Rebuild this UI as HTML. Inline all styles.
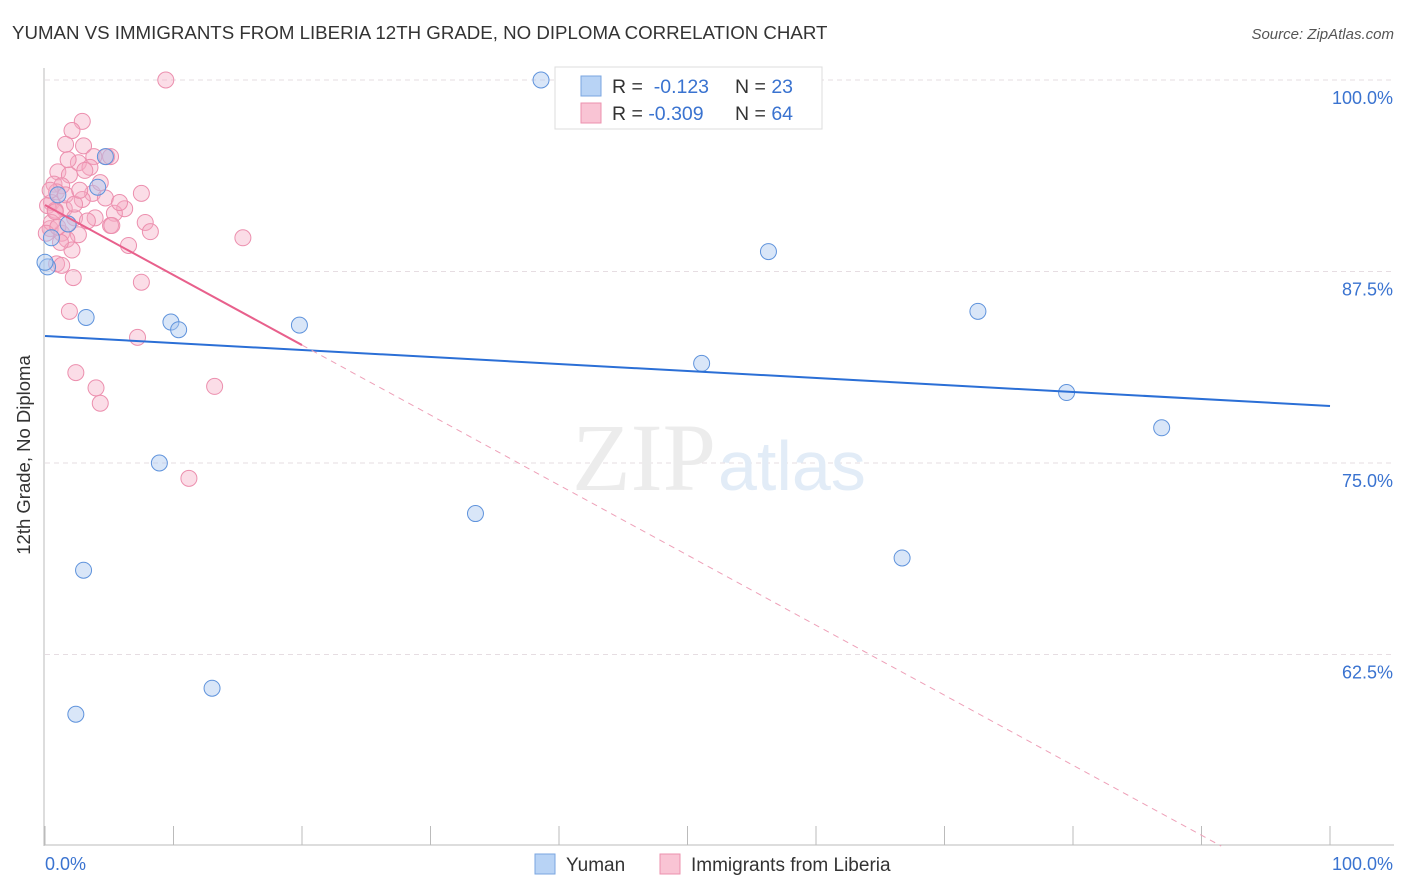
<!DOCTYPE html>
<html><head><meta charset="utf-8"><style>
body{margin:0;background:#fff;font-family:"Liberation Sans",sans-serif}
</style></head><body>
<svg width="1406" height="892" style="display:block">
<text x="12" y="39" font-size="18.7" fill="#333">YUMAN VS IMMIGRANTS FROM LIBERIA 12TH GRADE, NO DIPLOMA CORRELATION CHART</text>
<text x="1394" y="39" font-size="15" fill="#555" text-anchor="end" font-style="italic">Source: ZipAtlas.com</text>
<g id="grid"></g>
<text x="716" y="490" font-size="96" fill="#ececec" text-anchor="end" font-family="Liberation Serif">ZIP</text>
<text x="718" y="490" font-size="70" fill="#e2ecf7">atlas</text>
<line x1="44" y1="68" x2="44" y2="846" stroke="#bbb"/>
<line x1="44" y1="845" x2="1394" y2="845" stroke="#bbb"/>
<g id="xticks"></g>
<g id="pts"></g>
<g id="lines"></g>
<text x="30" y="455" font-size="18.5" fill="#333" text-anchor="middle" transform="rotate(-90 30 455)">12th Grade, No Diploma</text>
<text x="45" y="870" font-size="18" fill="#3a73d0">0.0%</text>
<text x="1393" y="870" font-size="18" fill="#3a73d0" text-anchor="end">100.0%</text>
<g>
<rect x="555" y="67" width="267" height="62" fill="#fff" stroke="#ddd"/>
<rect x="581" y="76" width="20" height="20" fill="#b8d3f5" stroke="#7aa6e0"/>
<rect x="581" y="103" width="20" height="20" fill="#f9c4d4" stroke="#ec91ae"/>
<text x="612" y="93" font-size="19.5" fill="#333">R = <tspan fill="#3a73d0">&#160;-0.123</tspan><tspan x="735">N = </tspan><tspan fill="#3a73d0">23</tspan></text>
<text x="612" y="120" font-size="19.5" fill="#333">R = <tspan fill="#3a73d0">-0.309</tspan><tspan x="735">N = </tspan><tspan fill="#3a73d0">64</tspan></text>
</g>
<g>
<rect x="535" y="854" width="20" height="20" fill="#b8d3f5" stroke="#7aa6e0"/>
<text x="566" y="871" font-size="19" fill="#333">Yuman</text>
<rect x="660" y="854" width="20" height="20" fill="#f9c4d4" stroke="#ec91ae"/>
<text x="691" y="871" font-size="19" fill="#333">Immigrants from Liberia</text>
</g>
</svg>
<script>
const yTicks=[100,87.5,75,62.5];
const yTickLabels=["100.0%","87.5%","75.0%","62.5%"];
const xTicks=[0,10,20,30,40,50,60,70,80,90,100];
const yumanX=[38.6,4.7,4.1,1.8,0.2,3.2,9.8,10.4,19.8,56.3,72.6,51.1,79.5,86.9,8.9,33.5,3.0,66.7,13.0,2.4,0.5,1.0,0.0];
const yumanY=[100,95.0,93.0,90.6,87.8,84.5,84.2,83.7,84.0,88.8,84.9,81.5,79.6,77.3,75.0,71.7,68.0,68.8,60.3,58.6,89.7,92.5,88.1];
const liberiaX=[9.4,2.9,2.1,1.6,3.0,4.8,3.8,2.6,1.8,3.5,1.0,1.9,0.7,1.3,0.9,3.7,7.5,2.9,4.7,6.2,5.4,0.5,1.5,3.9,0.2,0.8,2.3,3.3,5.1,7.8,5.2,0.4,1.3,2.6,8.2,15.4,6.5,1.7,2.1,0.9,2.2,7.5,1.9,7.2,2.4,3.97,13.2,4.3,11.2,0.5,0.1,1.2,3.1,4.3,1.6,0.4,2.3,1.0,1.8,0.8,2.7,1.3,5.1,5.8];
const liberiaY=[100,97.3,96.7,95.8,95.7,95.0,95.0,94.6,94.8,94.3,94.0,93.8,93.2,93.1,92.7,92.6,92.6,92.2,92.3,91.6,91.3,92.0,91.6,91.0,91.8,91.5,91.0,90.8,90.5,90.7,90.5,90.3,90.0,89.9,90.1,89.7,89.2,89.6,88.9,88.0,87.1,86.8,84.9,83.2,80.9,79.9,80.0,78.9,74.0,90.7,90.0,89.4,94.1,93.3,92.5,92.8,91.9,90.4,90.6,91.4,92.8,87.9,95.0,92.0];
const yumanTrend=[100-(336-80)/15.32,100-(406-80)/15.32];
const liberiaTrend=[100-(205-80)/15.32,-0.545*12.85/15.32];
const X=v=>45+v*12.85, Y=v=>80+(100-v)*15.32;
const NS="http://www.w3.org/2000/svg";
function mk(t,a,p){const e=document.createElementNS(NS,t);for(const k in a)e.setAttribute(k,a[k]);p.appendChild(e);return e;}
const g=document.getElementById('grid');
yTicks.forEach((v,i)=>{
 const l=mk('line',{x1:45,x2:1394,y1:Y(v),y2:Y(v),stroke:'#e6dde2','stroke-dasharray':'5,4'},g);
 
 
 const t=mk('text',{x:1393,y:Y(v)+24,'font-size':18,fill:'#3a73d0','text-anchor':'end'},g);
 t.textContent=yTickLabels[i];
 
 
});
const xt=document.getElementById('xticks');
xTicks.forEach(v=>{
 const l=mk('line',{x1:X(v),x2:X(v),y1:826,y2:845,stroke:'#bbb'},xt);
 
 
});
const pg=document.getElementById('pts');
liberiaX.forEach((x,i)=>{
 const c=mk('circle',{cx:X(x),cy:Y(liberiaY[i]),r:8,fill:'rgba(246,170,195,0.4)',stroke:'#ec8fae','stroke-width':1},pg);
 
 
});
yumanX.forEach((x,i)=>{
 const c=mk('circle',{cx:X(x),cy:Y(yumanY[i]),r:8,fill:'rgba(170,200,240,0.45)',stroke:'#5f93dc','stroke-width':1},pg);
 
 
});
const lg=document.getElementById('lines');
let a=mk('line',{x1:X(0),y1:Y(yumanTrend[0]),x2:X(100),y2:Y(yumanTrend[1]),stroke:'#2b6fd6','stroke-width':2},lg);


const lb=x=>liberiaTrend[0]+liberiaTrend[1]*x;
let b=mk('line',{x1:X(0),y1:Y(lb(0)),x2:X(20),y2:Y(lb(20)),stroke:'#e8608c','stroke-width':2},lg);


const xe=(50-liberiaTrend[0])/liberiaTrend[1];
let d=mk('line',{x1:X(20),y1:Y(lb(20)),x2:X(xe),y2:Y(50),stroke:'#eea0b8','stroke-width':1,'stroke-dasharray':'6,5'},lg);


</script>
</body></html>
